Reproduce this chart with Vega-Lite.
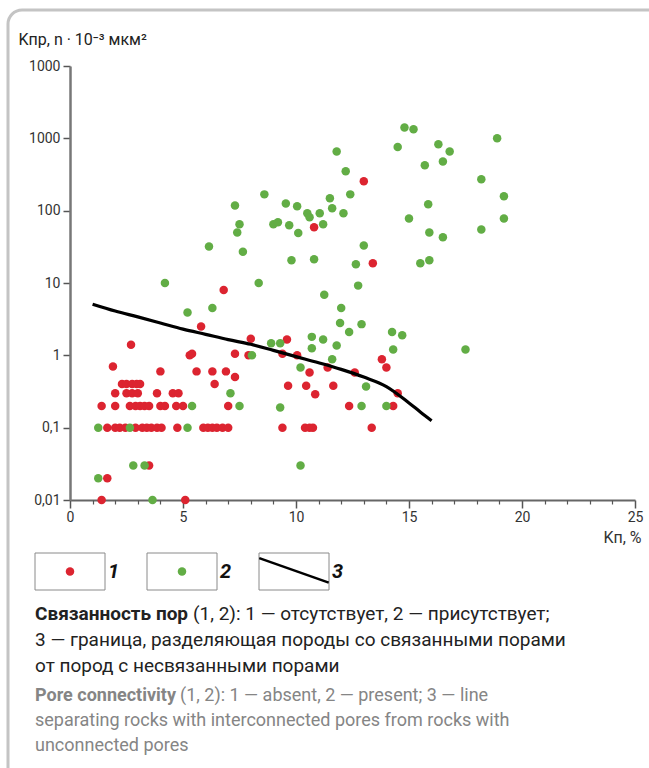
{
  "$schema": "https://vega.github.io/schema/vega-lite/v6.json",
  "autosize": "none",
  "padding": {"left": 8, "top": 10, "right": 0, "bottom": 0},
  "width": 660,
  "height": 775,
  "background": "white",
  "config": {
    "view": {"stroke": "#c4c4c4", "strokeWidth": 3, "cornerRadius": 14},
    "font": "Roboto, sans-serif"
  },
  "datasets": {
    "points": [
      {"kp": 6.8, "kpr": 8, "conn": "1"},
      {"kp": 5.8, "kpr": 2.5, "conn": "1"},
      {"kp": 2.7, "kpr": 1.4, "conn": "1"},
      {"kp": 8.0, "kpr": 1.7, "conn": "1"},
      {"kp": 5.3, "kpr": 1.0, "conn": "1"},
      {"kp": 5.4, "kpr": 1.05, "conn": "1"},
      {"kp": 7.3, "kpr": 1.05, "conn": "1"},
      {"kp": 7.9, "kpr": 1.0, "conn": "1"},
      {"kp": 1.9, "kpr": 0.7, "conn": "1"},
      {"kp": 4.0, "kpr": 0.6, "conn": "1"},
      {"kp": 5.6, "kpr": 0.6, "conn": "1"},
      {"kp": 6.3, "kpr": 0.6, "conn": "1"},
      {"kp": 6.9, "kpr": 0.6, "conn": "1"},
      {"kp": 7.3, "kpr": 0.5, "conn": "1"},
      {"kp": 6.4, "kpr": 0.4, "conn": "1"},
      {"kp": 2.3, "kpr": 0.4, "conn": "1"},
      {"kp": 2.5, "kpr": 0.4, "conn": "1"},
      {"kp": 2.75, "kpr": 0.4, "conn": "1"},
      {"kp": 2.95, "kpr": 0.4, "conn": "1"},
      {"kp": 3.1, "kpr": 0.4, "conn": "1"},
      {"kp": 2.0, "kpr": 0.3, "conn": "1"},
      {"kp": 2.5, "kpr": 0.3, "conn": "1"},
      {"kp": 2.75, "kpr": 0.3, "conn": "1"},
      {"kp": 3.0, "kpr": 0.3, "conn": "1"},
      {"kp": 3.85, "kpr": 0.3, "conn": "1"},
      {"kp": 4.55, "kpr": 0.3, "conn": "1"},
      {"kp": 4.8, "kpr": 0.3, "conn": "1"},
      {"kp": 1.4, "kpr": 0.2, "conn": "1"},
      {"kp": 2.0, "kpr": 0.2, "conn": "1"},
      {"kp": 2.65, "kpr": 0.2, "conn": "1"},
      {"kp": 2.9, "kpr": 0.2, "conn": "1"},
      {"kp": 3.1, "kpr": 0.2, "conn": "1"},
      {"kp": 3.3, "kpr": 0.2, "conn": "1"},
      {"kp": 3.5, "kpr": 0.2, "conn": "1"},
      {"kp": 4.0, "kpr": 0.2, "conn": "1"},
      {"kp": 4.2, "kpr": 0.2, "conn": "1"},
      {"kp": 4.7, "kpr": 0.2, "conn": "1"},
      {"kp": 5.0, "kpr": 0.2, "conn": "1"},
      {"kp": 7.0, "kpr": 0.2, "conn": "1"},
      {"kp": 1.65, "kpr": 0.1, "conn": "1"},
      {"kp": 2.0, "kpr": 0.1, "conn": "1"},
      {"kp": 2.2, "kpr": 0.1, "conn": "1"},
      {"kp": 2.45, "kpr": 0.1, "conn": "1"},
      {"kp": 2.9, "kpr": 0.1, "conn": "1"},
      {"kp": 3.2, "kpr": 0.1, "conn": "1"},
      {"kp": 3.4, "kpr": 0.1, "conn": "1"},
      {"kp": 3.6, "kpr": 0.1, "conn": "1"},
      {"kp": 3.85, "kpr": 0.1, "conn": "1"},
      {"kp": 4.05, "kpr": 0.1, "conn": "1"},
      {"kp": 4.75, "kpr": 0.1, "conn": "1"},
      {"kp": 5.9, "kpr": 0.1, "conn": "1"},
      {"kp": 6.1, "kpr": 0.1, "conn": "1"},
      {"kp": 6.3, "kpr": 0.1, "conn": "1"},
      {"kp": 6.5, "kpr": 0.1, "conn": "1"},
      {"kp": 6.75, "kpr": 0.1, "conn": "1"},
      {"kp": 7.0, "kpr": 0.1, "conn": "1"},
      {"kp": 3.5, "kpr": 0.03, "conn": "1"},
      {"kp": 1.65, "kpr": 0.02, "conn": "1"},
      {"kp": 1.4, "kpr": 0.01, "conn": "1"},
      {"kp": 5.1, "kpr": 0.01, "conn": "1"},
      {"kp": 9.6, "kpr": 1.66, "conn": "1"},
      {"kp": 9.4, "kpr": 1.05, "conn": "1"},
      {"kp": 10.05, "kpr": 1.0, "conn": "1"},
      {"kp": 10.6, "kpr": 0.58, "conn": "1"},
      {"kp": 11.4, "kpr": 0.68, "conn": "1"},
      {"kp": 12.6, "kpr": 0.58, "conn": "1"},
      {"kp": 13.8, "kpr": 0.88, "conn": "1"},
      {"kp": 14.0, "kpr": 0.68, "conn": "1"},
      {"kp": 9.65, "kpr": 0.38, "conn": "1"},
      {"kp": 10.45, "kpr": 0.38, "conn": "1"},
      {"kp": 10.85, "kpr": 0.29, "conn": "1"},
      {"kp": 11.65, "kpr": 0.38, "conn": "1"},
      {"kp": 14.5, "kpr": 0.3, "conn": "1"},
      {"kp": 12.35, "kpr": 0.2, "conn": "1"},
      {"kp": 14.3, "kpr": 0.2, "conn": "1"},
      {"kp": 9.4, "kpr": 0.1, "conn": "1"},
      {"kp": 10.4, "kpr": 0.1, "conn": "1"},
      {"kp": 10.6, "kpr": 0.1, "conn": "1"},
      {"kp": 10.75, "kpr": 0.1, "conn": "1"},
      {"kp": 13.35, "kpr": 0.1, "conn": "1"},
      {"kp": 13.0, "kpr": 255, "conn": "1"},
      {"kp": 10.8, "kpr": 59, "conn": "1"},
      {"kp": 13.4, "kpr": 18.7, "conn": "1"},
      {"kp": 4.2, "kpr": 10, "conn": "2"},
      {"kp": 8.35, "kpr": 10, "conn": "2"},
      {"kp": 5.2, "kpr": 3.9, "conn": "2"},
      {"kp": 6.3, "kpr": 4.5, "conn": "2"},
      {"kp": 8.05, "kpr": 1.0, "conn": "2"},
      {"kp": 7.1, "kpr": 0.3, "conn": "2"},
      {"kp": 5.4, "kpr": 0.2, "conn": "2"},
      {"kp": 7.5, "kpr": 0.2, "conn": "2"},
      {"kp": 1.25, "kpr": 0.1, "conn": "2"},
      {"kp": 2.65, "kpr": 0.1, "conn": "2"},
      {"kp": 5.2, "kpr": 0.1, "conn": "2"},
      {"kp": 2.8, "kpr": 0.03, "conn": "2"},
      {"kp": 3.3, "kpr": 0.03, "conn": "2"},
      {"kp": 1.25, "kpr": 0.02, "conn": "2"},
      {"kp": 3.65, "kpr": 0.01, "conn": "2"},
      {"kp": 7.3, "kpr": 118, "conn": "2"},
      {"kp": 7.5, "kpr": 65, "conn": "2"},
      {"kp": 7.4, "kpr": 50, "conn": "2"},
      {"kp": 6.15, "kpr": 32, "conn": "2"},
      {"kp": 7.65, "kpr": 27, "conn": "2"},
      {"kp": 12.75, "kpr": 9.2, "conn": "2"},
      {"kp": 11.25, "kpr": 6.9, "conn": "2"},
      {"kp": 12.0, "kpr": 4.5, "conn": "2"},
      {"kp": 11.95, "kpr": 2.8, "conn": "2"},
      {"kp": 12.35, "kpr": 2.1, "conn": "2"},
      {"kp": 12.9, "kpr": 2.7, "conn": "2"},
      {"kp": 14.25, "kpr": 2.1, "conn": "2"},
      {"kp": 14.7, "kpr": 1.9, "conn": "2"},
      {"kp": 14.3, "kpr": 1.2, "conn": "2"},
      {"kp": 17.5, "kpr": 1.2, "conn": "2"},
      {"kp": 8.9, "kpr": 1.47, "conn": "2"},
      {"kp": 9.3, "kpr": 1.47, "conn": "2"},
      {"kp": 10.7, "kpr": 1.8, "conn": "2"},
      {"kp": 10.7, "kpr": 1.25, "conn": "2"},
      {"kp": 11.2, "kpr": 1.66, "conn": "2"},
      {"kp": 11.8, "kpr": 1.37, "conn": "2"},
      {"kp": 11.6, "kpr": 0.88, "conn": "2"},
      {"kp": 10.2, "kpr": 0.68, "conn": "2"},
      {"kp": 13.1, "kpr": 0.37, "conn": "2"},
      {"kp": 9.3, "kpr": 0.19, "conn": "2"},
      {"kp": 12.9, "kpr": 0.2, "conn": "2"},
      {"kp": 14.0, "kpr": 0.2, "conn": "2"},
      {"kp": 10.2, "kpr": 0.03, "conn": "2"},
      {"kp": 11.8, "kpr": 660, "conn": "2"},
      {"kp": 14.8, "kpr": 1410, "conn": "2"},
      {"kp": 15.2, "kpr": 1340, "conn": "2"},
      {"kp": 14.5, "kpr": 760, "conn": "2"},
      {"kp": 16.3, "kpr": 830, "conn": "2"},
      {"kp": 16.8, "kpr": 660, "conn": "2"},
      {"kp": 16.5, "kpr": 480, "conn": "2"},
      {"kp": 15.7, "kpr": 425, "conn": "2"},
      {"kp": 18.9, "kpr": 1000, "conn": "2"},
      {"kp": 18.2, "kpr": 272, "conn": "2"},
      {"kp": 19.2, "kpr": 158, "conn": "2"},
      {"kp": 19.2, "kpr": 78, "conn": "2"},
      {"kp": 18.2, "kpr": 55, "conn": "2"},
      {"kp": 15.85, "kpr": 123, "conn": "2"},
      {"kp": 15.0, "kpr": 78, "conn": "2"},
      {"kp": 15.9, "kpr": 50, "conn": "2"},
      {"kp": 16.5, "kpr": 43, "conn": "2"},
      {"kp": 15.5, "kpr": 18.7, "conn": "2"},
      {"kp": 15.9, "kpr": 20.6, "conn": "2"},
      {"kp": 12.2, "kpr": 350, "conn": "2"},
      {"kp": 12.4, "kpr": 168, "conn": "2"},
      {"kp": 8.6, "kpr": 168, "conn": "2"},
      {"kp": 9.55, "kpr": 126, "conn": "2"},
      {"kp": 10.05, "kpr": 115, "conn": "2"},
      {"kp": 11.5, "kpr": 148, "conn": "2"},
      {"kp": 10.5, "kpr": 92, "conn": "2"},
      {"kp": 11.05, "kpr": 92, "conn": "2"},
      {"kp": 11.6, "kpr": 108, "conn": "2"},
      {"kp": 12.1, "kpr": 92, "conn": "2"},
      {"kp": 10.6, "kpr": 81, "conn": "2"},
      {"kp": 9.0, "kpr": 65, "conn": "2"},
      {"kp": 9.2, "kpr": 69, "conn": "2"},
      {"kp": 9.7, "kpr": 63, "conn": "2"},
      {"kp": 11.2, "kpr": 65, "conn": "2"},
      {"kp": 10.1, "kpr": 49, "conn": "2"},
      {"kp": 13.0, "kpr": 33, "conn": "2"},
      {"kp": 9.8, "kpr": 20.6, "conn": "2"},
      {"kp": 10.8, "kpr": 21.3, "conn": "2"},
      {"kp": 12.65, "kpr": 18.1, "conn": "2"}
    ],
    "boundary": [
      {"kp": 1, "kpr": 5.1},
      {"kp": 2, "kpr": 4.1},
      {"kp": 3, "kpr": 3.4},
      {"kp": 4, "kpr": 2.8},
      {"kp": 5, "kpr": 2.3},
      {"kp": 6, "kpr": 1.95},
      {"kp": 7, "kpr": 1.65},
      {"kp": 8, "kpr": 1.42},
      {"kp": 9, "kpr": 1.17},
      {"kp": 10, "kpr": 0.96},
      {"kp": 11, "kpr": 0.79},
      {"kp": 12, "kpr": 0.64},
      {"kp": 13, "kpr": 0.5},
      {"kp": 14, "kpr": 0.37},
      {"kp": 15, "kpr": 0.22},
      {"kp": 15.5, "kpr": 0.165},
      {"kp": 16, "kpr": 0.125}
    ],
    "legend": [
      {"item": "1"},
      {"item": "2"},
      {"item": "3"}
    ],
    "caption_ru": [
      {"line": 1, "part": "lead", "text": "Связанность пор"},
      {"line": 1, "part": "rest", "text": "(1, 2): 1 — отсутствует, 2 — присутствует;"},
      {"line": 2, "part": "full", "text": "3 — граница, разделяющая породы со связанными порами"},
      {"line": 3, "part": "full", "text": "от пород с несвязанными порами"}
    ],
    "caption_en": [
      {"line": 4, "part": "lead", "text": "Pore connectivity"},
      {"line": 4, "part": "rest", "text": "(1, 2): 1 — absent, 2 — present; 3 — line"},
      {"line": 5, "part": "full", "text": "separating rocks with interconnected pores from rocks with"},
      {"line": 6, "part": "full", "text": "unconnected pores"}
    ]
  },
  "resolve": {"scale": {"x": "independent", "y": "independent"}},
  "layer": [
    {
      "resolve": {"axis": {"x": "independent"}},
      "layer": [
        {
          "data": {"name": "points"},
          "mark": {"type": "circle", "size": 72, "opacity": 1},
          "encoding": {
            "x": {
              "field": "kp", "type": "quantitative",
              "scale": {"domain": [0, 25], "nice": false, "range": [62, 627]},
              "axis": {
                "title": "Kп, %",
                "orient": "bottom",
                "offset": -285,
                "values": [0, 5, 10, 15, 20, 25],
                "labelOverlap": false,
                "labelFlush": false,
                "tickSize": 8,
                "grid": false,
                "domainColor": "#666666",
                "domainWidth": 2,
                "tickColor": "#555555",
                "tickWidth": 1.5,
                "labelFontSize": 14,
                "labelColor": "#333333",
                "labelPadding": 2,
                "titleX": 633,
                "titleY": 42,
                "titleAlign": "right",
                "titleBaseline": "alphabetic",
                "titleFontSize": 16,
                "titleFontWeight": "normal",
                "titleColor": "#333333"
              }
            },
            "y": {
              "field": "kpr", "type": "quantitative",
              "scale": {"type": "log", "domain": [0.01, 10000], "nice": false, "range": [490, 56]},
              "axis": {
                "title": "Kпр, n · 10⁻³ мкм²",
                "orient": "left",
                "offset": -62,
                "values": [0.01, 0.1, 1, 10, 100, 1000, 10000],
                "labelExpr": "datum.value < 0.05 ? '0,01' : datum.value < 0.5 ? '0,1' : datum.value < 5 ? '1' : datum.value < 50 ? '10' : datum.value < 500 ? '100' : '1000'",
                "grid": false,
                "domainColor": "#777777",
                "domainWidth": 2.5,
                "tickColor": "#555555",
                "tickWidth": 1.5,
                "tickSize": 7,
                "labelFontSize": 14,
                "labelColor": "#333333",
                "labelPadding": 3,
                "titleAngle": 0,
                "titleAlign": "left",
                "titleBaseline": "alphabetic",
                "titleX": -52,
                "titleY": 34,
                "titleFontSize": 16,
                "titleFontWeight": "normal",
                "titleColor": "#222222"
              }
            },
            "color": {
              "field": "conn", "type": "nominal",
              "scale": {"domain": ["1", "2"], "range": ["#dc2430", "#62ad45"]},
              "legend": null
            }
          }
        },
        {
          "data": {"name": "boundary"},
          "mark": {"type": "line", "color": "#000000", "strokeWidth": 3.2, "interpolate": "monotone"},
          "encoding": {
            "x": {
              "field": "kp", "type": "quantitative",
              "axis": {
                "orient": "bottom",
                "offset": -285,
                "title": null,
                "values": [1, 2, 3, 4, 6, 7, 8, 9, 11, 12, 13, 14, 16, 17, 18, 19, 21, 22, 23, 24],
                "labels": false,
                "domain": false,
                "grid": false,
                "tickSize": 4,
                "tickColor": "#555555",
                "tickWidth": 1.2
              }
            },
            "y": {"field": "kpr", "type": "quantitative"}
          }
        }
      ]
    },
    {
      "data": {"name": "legend"},
      "layer": [
        {
          "mark": {"type": "bar", "fill": "white", "stroke": "#8a8a8a", "strokeWidth": 1, "width": {"band": 0.625}},
          "encoding": {
            "x": {
              "field": "item", "type": "nominal",
              "scale": {"domain": ["1", "2", "3"], "range": [6, 342], "paddingInner": 0, "paddingOuter": 0},
              "axis": null
            },
            "y": {"datum": 0, "type": "quantitative", "scale": {"domain": [0, 1], "range": [580, 543]}, "axis": null},
            "y2": {"datum": 1}
          }
        },
        {
          "transform": [{"filter": "datum.item !== '3'"}],
          "mark": {"type": "circle", "size": 72, "opacity": 1},
          "encoding": {
            "x": {"field": "item", "type": "nominal"},
            "y": {"datum": 0.5, "type": "quantitative"},
            "color": {
              "field": "item", "type": "nominal",
              "scale": {"domain": ["1", "2"], "range": ["#dc2430", "#62ad45"]},
              "legend": null
            }
          }
        },
        {
          "transform": [{"filter": "datum.item === '3'"}],
          "mark": {"type": "rule", "color": "#000000", "strokeWidth": 2.5},
          "encoding": {
            "x": {"field": "item", "type": "nominal", "bandPosition": 0.19},
            "x2": {"field": "item", "bandPosition": 0.81},
            "y": {"datum": 0.86, "type": "quantitative"},
            "y2": {"datum": 0.2}
          }
        },
        {
          "mark": {"type": "text", "fontSize": 20, "fontWeight": "bold", "fontStyle": "italic", "align": "center", "baseline": "middle", "color": "#111111"},
          "encoding": {
            "x": {"field": "item", "type": "nominal", "bandPosition": 0.89},
            "y": {"datum": 0.5, "type": "quantitative"},
            "text": {"field": "item"}
          }
        }
      ]
    },
    {
      "data": {"name": "caption_ru"},
      "encoding": {
        "x": {"datum": 0, "type": "quantitative", "scale": {"domain": [0, 1], "range": [27, 627]}, "axis": null},
        "y": {"field": "line", "type": "ordinal", "scale": {"type": "point", "range": [604, 656], "padding": 0}, "axis": null},
        "text": {"field": "text"}
      },
      "layer": [
        {
          "transform": [{"filter": "datum.part === 'lead'"}],
          "mark": {"type": "text", "align": "left", "baseline": "middle", "fontSize": 19, "fontWeight": "bold", "color": "#222222"}
        },
        {
          "transform": [{"filter": "datum.part === 'rest'"}],
          "mark": {"type": "text", "align": "left", "baseline": "middle", "fontSize": 19, "color": "#222222", "dx": 158}
        },
        {
          "transform": [{"filter": "datum.part === 'full'"}],
          "mark": {"type": "text", "align": "left", "baseline": "middle", "fontSize": 19, "color": "#222222"}
        }
      ]
    },
    {
      "data": {"name": "caption_en"},
      "encoding": {
        "x": {"datum": 0, "type": "quantitative", "scale": {"domain": [0, 1], "range": [27, 627]}, "axis": null},
        "y": {"field": "line", "type": "ordinal", "scale": {"type": "point", "range": [686, 736], "padding": 0}, "axis": null},
        "text": {"field": "text"}
      },
      "layer": [
        {
          "transform": [{"filter": "datum.part === 'lead'"}],
          "mark": {"type": "text", "align": "left", "baseline": "middle", "fontSize": 18, "fontWeight": "bold", "color": "#858585"}
        },
        {
          "transform": [{"filter": "datum.part === 'rest'"}],
          "mark": {"type": "text", "align": "left", "baseline": "middle", "fontSize": 18, "color": "#858585", "dx": 145}
        },
        {
          "transform": [{"filter": "datum.part === 'full'"}],
          "mark": {"type": "text", "align": "left", "baseline": "middle", "fontSize": 18, "color": "#858585"}
        }
      ]
    }
  ]
}
